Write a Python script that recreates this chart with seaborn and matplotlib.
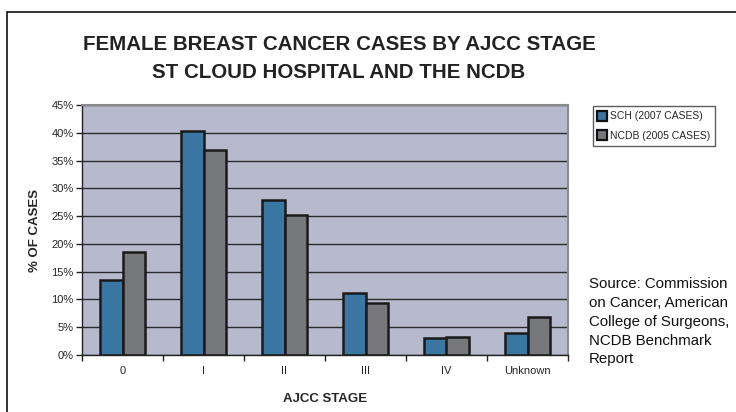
import pandas as pd
import matplotlib.pyplot as plt
import seaborn as sns
from matplotlib.lines import Line2D
from matplotlib.patches import Rectangle

stages = ['0', 'I', 'II', 'III', 'IV', 'Unknown']
sch = [13.5, 40.4, 27.9, 11.2, 3.1, 4.0]
ncdb = [18.5, 36.9, 25.2, 9.4, 3.3, 6.8]
series = ['SCH (2007 CASES)', 'NCDB (2005 CASES)']
colors = ['#3a77a3', '#77787b']

df = pd.DataFrame({
    'stage': stages * 2,
    'pct': sch + ncdb,
    'series': [series[0]] * len(stages) + [series[1]] * len(stages),
})

sns.set_style('white')
plt.rcParams['font.family'] = ['Liberation Sans', 'DejaVu Sans']

fig = plt.figure(figsize=(7.36, 4.12), dpi=100)
ax = fig.add_axes([82 / 736, 57 / 412, 486 / 736, 250 / 412])

sns.barplot(df, x='stage', y='pct', hue='series', palette=colors, width=0.56,
            edgecolor='#1a1a1a', linewidth=1.8, saturation=1, ax=ax, legend=False)

ax.set_facecolor('#b7bacd')
ax.set_ylim(0, 45)
ax.set_xlim(-0.5, 5.5)
ax.set_yticks(range(0, 46, 5))
ax.set_yticklabels([f'{v}%' for v in range(0, 46, 5)])
ax.yaxis.grid(True, color='#2b2b2b', linewidth=1)
ax.set_axisbelow(True)

# ticks between the categories on the bottom axis
ax.set_xticks([i - 0.5 for i in range(7)], minor=True)
ax.tick_params(axis='x', which='major', length=0, labelsize=8, pad=8)
ax.tick_params(axis='x', which='minor', length=4, width=1, color='#222', direction='out', bottom=True)
ax.tick_params(axis='y', length=4, width=1, color='#222', direction='out', left=True, labelsize=8, pad=2)

for s in ['top', 'right']:
    ax.spines[s].set_color('#8a8a8a')
    ax.spines[s].set_linewidth(1.5)
for s in ['left', 'bottom']:
    ax.spines[s].set_color('#222222')
    ax.spines[s].set_linewidth(1)

ax.set_xlabel('AJCC STAGE', fontsize=9.5, fontweight='bold')
ax.set_ylabel('% OF CASES', fontsize=9.5, fontweight='bold')
ax.xaxis.set_label_coords(0.5, -0.152)
ax.yaxis.set_label_coords(-0.084, 0.5)

handles = [Line2D([], [], marker='s', linestyle='none', markersize=6.5, markerfacecolor=c,
                  markeredgecolor='#111', markeredgewidth=1.6) for c in colors]
leg = fig.legend(handles, series, loc='upper left', bbox_to_anchor=(593 / 736, 1 - 106 / 412),
                 fontsize=7.5, frameon=True, fancybox=False, edgecolor='#333',
                 handlelength=0.8, handletextpad=0.3, borderpad=0.5, labelspacing=0.9,
                 borderaxespad=0)
leg.get_frame().set_linewidth(1)

fig.text(339 / 736, 1 - 45 / 412, 'FEMALE BREAST CANCER CASES BY AJCC STAGE',
         ha='center', va='center', fontsize=14.8, fontweight='bold', color='#222')
fig.text(339 / 736, 1 - 72 / 412, 'ST CLOUD HOSPITAL AND THE NCDB',
         ha='center', va='center', fontsize=14.8, fontweight='bold', color='#222')

fig.text(589 / 736, 1 - 277 / 412,
         'Source: Commission\non Cancer, American\nCollege of Surgeons,\nNCDB Benchmark\nReport',
         ha='left', va='top', fontsize=10.8, linespacing=1.44, color='#111')

fig.patches.append(Rectangle((7 / 736, -0.1), 1.2, 1 - 12 / 412 + 0.1, transform=fig.transFigure,
                             fill=False, edgecolor='#111', linewidth=1.2))

fig.savefig('out.png', dpi=100)
